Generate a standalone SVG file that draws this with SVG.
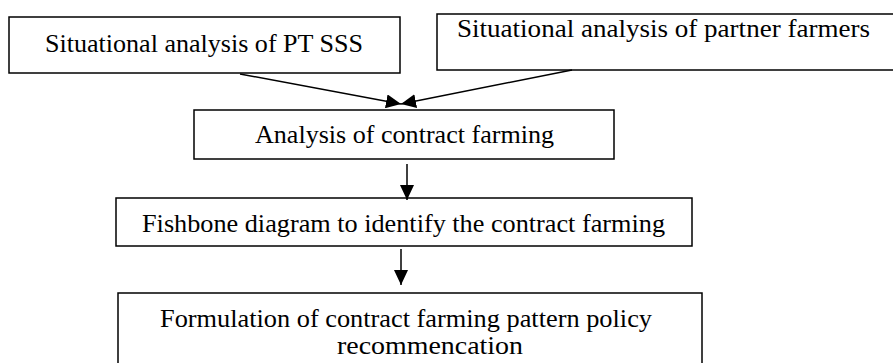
<svg xmlns="http://www.w3.org/2000/svg" width="893" height="363" viewBox="0 0 893 363">
<style>
.box{fill:#fff;stroke:#000;stroke-width:1.5}
.t{font-family:"Liberation Serif","Times New Roman",serif;font-size:26px;fill:#000;text-anchor:middle}
.c{stroke:#000;stroke-width:1.5;fill:none}
</style>
<defs>
<marker id="ah" markerWidth="15" markerHeight="14" refX="15" refY="7" orient="auto" markerUnits="userSpaceOnUse">
<path d="M0,0 L15,7 L0,14 Z" fill="#000"/>
</marker>
</defs>
<rect width="893" height="363" fill="#fff"/>
<g id="n1">
<rect class="box" x="9" y="17" width="391" height="56"/>
<text class="t" x="204" y="52" textLength="318" lengthAdjust="spacingAndGlyphs">Situational analysis of PT SSS</text>
</g>
<g id="n2">
<rect class="box" x="437" y="14" width="470" height="56"/>
<text class="t" x="663.5" y="37" textLength="413" lengthAdjust="spacingAndGlyphs">Situational analysis of partner farmers</text>
</g>
<g id="n3">
<rect class="box" x="194" y="110" width="420" height="49"/>
<text class="t" x="404.5" y="143" textLength="299" lengthAdjust="spacingAndGlyphs">Analysis of contract farming</text>
</g>
<g id="n4">
<rect class="box" x="116" y="198" width="576" height="48"/>
<text class="t" x="403.5" y="232" textLength="523" lengthAdjust="spacingAndGlyphs">Fishbone diagram to identify the contract farming</text>
</g>
<g id="n5">
<rect class="box" x="118" y="293" width="584" height="80"/>
<text class="t" x="406" y="327" textLength="492" lengthAdjust="spacingAndGlyphs">Formulation of contract farming pattern policy</text>
<text class="t" x="430" y="354" textLength="186" lengthAdjust="spacingAndGlyphs">recommencation</text>
</g>
<g id="connectors">
<line class="c" x1="240" y1="74" x2="401" y2="104" marker-end="url(#ah)"/>
<line class="c" x1="572" y1="70" x2="401" y2="104" marker-end="url(#ah)"/>
<line class="c" x1="407" y1="164" x2="407" y2="200" marker-end="url(#ah)"/>
<line class="c" x1="401" y1="249" x2="401" y2="285" marker-end="url(#ah)"/>
</g>
</svg>
